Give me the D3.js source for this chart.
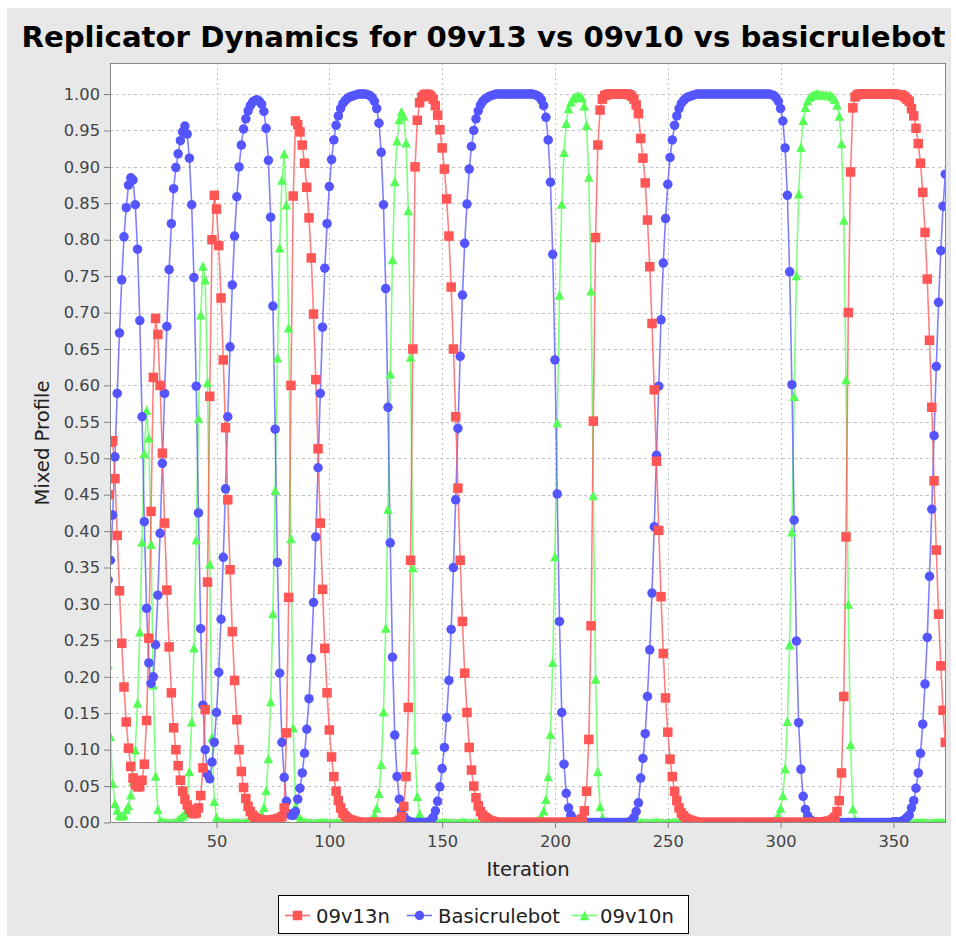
<!DOCTYPE html>
<html><head><meta charset="utf-8">
<script src="https://cdn.jsdelivr.net/npm/d3@7"></script>
<style>body{margin:0;background:#fff}svg{display:block}</style>
</head><body><svg id="chart" width="956" height="936"></svg>
<script>
const titleText = "Replicator Dynamics for 09v13 vs 09v10 vs basicrulebot";
const seriesNames = ["09v13n", "Basicrulebot", "09v10n"];
const xLabel = "Iteration";
const yLabel = "Mixed Profile";
const firstIteration = 2;
const xTicks = [50, 100, 150, 200, 250, 300, 350];
const yTicks = [0, 0.05, 0.10, 0.15, 0.20, 0.25, 0.30, 0.35, 0.40, 0.45, 0.50, 0.55, 0.60, 0.65, 0.70, 0.75, 0.80, 0.85, 0.90, 0.95, 1.00];

// 09v13n (red), iterations 2..373
const red = [
.45,.522,.524,.472,.394,.318,.246,.186,.138,.102,
.077,.061,.052,.049,.049,.058,.08,.14,.253,.427,
.611,.692,.670,.600,.507,.411,.319,.241,.178,.13,
.10,.078,.058,.043,.032,.024,.018,.014,.012,.013,
.02,.037,.075,.155,.33,.585,.80,.861,.842,.792,
.72,.635,.542,.443,.347,.262,.195,.141,.10,.07,
.048,.033,.022,.015,.01,.007,.005,.004,.003,.003,
.003,.003,.003,.004,.004,.005,.006,.008,.02,.123,
.309,.60,.86,.963,.958,.948,.93,.905,.872,.83,
.775,.698,.608,.513,.411,.32,.239,.178,.127,.09,
.063,.043,.03,.02,.013,.009,.006,.004,.003,.002,
.001,0,0,0,0,0,0,0,0,0,
0,0,0,0,0,0,0,0,.001,.003,
.008,.022,.063,.158,.36,.65,.90,.964,.988,.996,
.999,1,.999,.997,.993,.984,.971,.951,.926,.897,
.856,.805,.735,.65,.557,.459,.36,.276,.205,.151,
.103,.072,.05,.034,.023,.015,.01,.007,.005,.003,
.002,.001,0,0,0,0,0,0,0,0,
0,0,0,0,0,0,0,0,0,0,
0,0,0,0,0,0,0,0,0,0,
0,0,0,0,0,.001,.001,.001,.001,.002,
.005,.016,.043,.114,.27,.551,.803,.93,.978,.993,
.998,.999,1,1,1,1,1,1,1,1,
1,.999,.997,.993,.985,.973,.939,.912,.878,.827,
.763,.685,.594,.496,.401,.31,.232,.171,.124,.087,
.063,.043,.03,.02,.013,.009,.006,.004,.003,.002,
.001,0,0,0,0,0,0,0,0,0,
0,0,0,0,0,0,0,0,0,0,
0,0,0,0,0,0,0,0,0,0,
0,0,0,0,0,0,0,0,0,0,
0,0,0,0,0,0,0,0,0,0,
0,0,0,0,0,0,.001,.001,.001,.002,
.002,.004,.007,.015,.03,.068,.173,.392,.70,.893,
.981,.996,.999,1,1,1,1,1,1,1,
1,1,1,1,1,1,1,1,1,1,
.999,.999,.998,.996,.993,.99,.98,.97,.953,.932,
.905,.865,.81,.746,.662,.57,.469,.374,.286,.215,
.154,.11
];

// Basicrulebot (blue), iterations 2..373
const blue = [
.333,.36,.422,.502,.589,.672,.745,.804,.844,.875,
.885,.882,.848,.787,.689,.557,.413,.294,.219,.191,
.20,.244,.312,.397,.493,.589,.681,.759,.822,.87,
.899,.918,.936,.948,.956,.945,.912,.848,.748,.599,
.425,.266,.161,.10,.066,.06,.083,.11,.151,.206,
.279,.364,.458,.557,.653,.738,.805,.859,.90,.93,
.952,.966,.977,.984,.989,.991,.992,.99,.986,.976,
.953,.909,.831,.709,.54,.357,.205,.11,.062,.029,
.012,.01,.01,.015,.032,.047,.068,.095,.128,.17,
.225,.302,.392,.487,.589,.68,.761,.822,.873,.91,
.937,.957,.97,.98,.987,.991,.994,.996,.997,.998,
.999,1,1,1,1,.999,.998,.995,.99,.98,
.96,.92,.848,.733,.57,.384,.227,.12,.063,.032,
.016,.008,.004,.002,.001,0,0,0,0,0,
0,0,.001,.003,.007,.016,.029,.049,.074,.103,
.144,.195,.265,.35,.443,.541,.64,.724,.795,.849,
.897,.928,.95,.966,.977,.985,.99,.993,.995,.997,
.998,.999,1,1,1,1,1,1,1,1,
1,1,1,1,1,1,1,1,1,.999,
.998,.996,.992,.984,.968,.937,.879,.78,.635,.451,
.276,.151,.08,.04,.02,.01,.005,.003,.001,.001,
0,0,0,0,0,0,0,0,0,0,
0,0,0,0,0,0,0,0,0,0,
0,.001,.003,.007,.015,.027,.061,.088,.122,.173,
.237,.315,.406,.504,.599,.69,.768,.829,.876,.913,
.937,.957,.97,.98,.987,.991,.994,.996,.997,.998,
.999,1,1,1,1,1,1,1,1,1,
1,1,1,1,1,1,1,1,1,1,
1,1,1,1,1,1,1,1,1,1,
1,1,1,1,.999,.998,.995,.99,.98,.963,
.926,.861,.756,.601,.415,.249,.137,.073,.036,.018,
.009,.004,.002,.001,0,0,0,0,0,0,
0,0,0,0,0,0,0,0,0,0,
0,0,0,0,0,0,0,0,0,0,
0,0,0,0,0,0,0,0,.001,.001,
.001,.001,.002,.004,.007,.01,.02,.03,.047,.068,
.095,.135,.19,.254,.338,.43,.531,.626,.714,.785,
.846,.89
];

// 09v10n (green), iterations 2..373
const green = [
.217,.118,.054,.026,.017,.010,.009,.010,.018,.023,
.038,.057,.10,.164,.262,.385,.507,.566,.528,.382,
.189,.064,.018,.003,0,0,0,0,0,0,
.001,.004,.006,.009,.012,.031,.07,.138,.24,.388,
.555,.697,.764,.745,.604,.355,.117,.029,.007,.002,
.001,.001,0,0,0,0,0,0,0,0,
0,.001,.001,.001,.001,.002,.003,.006,.011,.021,
.044,.088,.166,.287,.456,.638,.789,.882,.918,.848,
.679,.39,.13,.022,.01,.005,.002,0,0,0,
0,0,0,0,0,0,0,0,0,0,
0,0,0,0,0,0,0,0,0,0,
0,0,0,0,0,.001,.002,.005,.01,.02,
.04,.08,.152,.267,.43,.616,.773,.88,.936,.965,
.976,.97,.933,.84,.639,.35,.10,.036,.012,.004,
.001,0,0,0,0,0,0,0,0,0,
0,0,0,0,0,0,0,0,0,0,
0,0,0,0,0,0,0,0,0,0,
0,0,0,0,0,0,0,0,0,0,
0,0,0,0,0,0,0,0,0,.001,
.002,.004,.008,.016,.032,.063,.121,.22,.365,.549,
.724,.849,.92,.96,.98,.989,.994,.996,.998,.997,
.995,.984,.957,.886,.73,.449,.197,.07,.022,.007,
.002,.001,0,0,0,0,0,0,0,0,
0,0,0,0,0,0,0,0,0,0,
0,0,0,0,0,0,0,0,0,0,
0,0,0,0,0,0,0,0,0,0,
0,0,0,0,0,0,0,0,0,0,
0,0,0,0,0,0,0,0,0,0,
0,0,0,0,0,0,0,0,0,0,
0,0,0,0,.001,.002,.005,.01,.02,.037,
.074,.139,.244,.399,.585,.751,.863,.927,.964,.982,
.991,.996,.998,.999,1,1,.999,.999,.999,.998,
.998,.996,.993,.985,.97,.932,.827,.608,.30,.107,
.019,.004,.001,0,0,0,0,0,0,0,
0,0,0,0,0,0,0,0,0,0,
0,0,0,0,0,0,0,0,0,0,
0,0,0,0,0,0,0,0,0,0,
0,0
];

const colors = ["#ff5555", "#5555ff", "#55ff55"];
const svg = d3.select("#chart");
const W = 956, H = 936;
const P = {left: 110, top: 63, right: 946, bottom: 823};

svg.append("rect").attr("x", 0).attr("y", 0).attr("width", W).attr("height", H).attr("fill", "#ffffff");
svg.append("rect").attr("x", 7).attr("y", 8).attr("width", 944).attr("height", 928).attr("fill", "#e8e8e8");

const x = d3.scaleLinear().domain([2.8, 373.3]).range([P.left, P.right]);
const y = d3.scaleLinear().domain([0, 1.0426]).range([822.5, P.top]);

// plot background
svg.append("rect").attr("x", P.left).attr("y", P.top).attr("width", P.right - P.left).attr("height", P.bottom - P.top).attr("fill", "#ffffff");

// gridlines
const grid = svg.append("g");
grid.selectAll("line.h").data(yTicks.slice(1)).join("line")
  .attr("x1", P.left).attr("x2", P.right)
  .attr("y1", d => Math.round(y(d)) + 0.5).attr("y2", d => Math.round(y(d)) + 0.5)
  .attr("stroke", "#c4c4c4").attr("stroke-width", 1).attr("stroke-dasharray", "3,3");
grid.selectAll("line.v").data(xTicks).join("line")
  .attr("y1", P.top).attr("y2", P.bottom)
  .attr("x1", d => Math.round(x(d)) + 0.5).attr("x2", d => Math.round(x(d)) + 0.5)
  .attr("stroke", "#c4c4c4").attr("stroke-width", 1).attr("stroke-dasharray", "2,3");

// axes
const font = "'DejaVu Sans', 'Noto Sans', sans-serif";
const yAxis = d3.axisLeft(y).tickValues(yTicks).tickFormat(d3.format(".2f")).tickSize(6).tickPadding(4);
const gy = svg.append("g").attr("transform", `translate(${P.left},0)`).call(yAxis);
const xAxis = d3.axisBottom(x).tickValues(xTicks).tickFormat(d3.format("d")).tickSize(5).tickPadding(7);
const gx = svg.append("g").attr("transform", `translate(0,${P.bottom})`).call(xAxis);
[gx, gy].forEach(g => {
  g.select(".domain").remove();
  g.selectAll(".tick line").attr("stroke", "#808080");
  g.selectAll("text").attr("font-family", font).attr("font-size", 16.3).attr("fill", "#444");
});

// clip
svg.append("clipPath").attr("id", "clip").append("rect")
  .attr("x", P.left).attr("y", P.top).attr("width", P.right - P.left).attr("height", P.bottom - P.top);

const data = [red, blue, green].map((arr, si) => arr.map((v, i) => ({x: firstIteration + i, y: v, s: si})));
const plotG = svg.append("g").attr("clip-path", "url(#clip)");
const line = d3.line().x(d => x(d.x)).y(d => y(d.y));
const order = [2, 1, 0];
order.forEach(si => {
  plotG.append("path").datum(data[si]).attr("d", line)
    .attr("fill", "none").attr("stroke", colors[si]).attr("stroke-width", 1.6).attr("stroke-opacity", 0.75);
});
const sz = 9.5;
const shapes = [
  d3.symbol().type(d3.symbolSquare).size(sz * sz),
  d3.symbol().type(d3.symbolCircle).size(Math.PI * (sz / 2) * (sz / 2)),
  d3.symbol().type(d3.symbolTriangle).size(sz * sz * 0.5)
];
function triPath(cx, cy) {
  const h = sz / 2;
  return `M${cx},${cy - h}L${cx + h},${cy + h}L${cx - h},${cy + h}Z`;
}
order.forEach(si => {
  const g = plotG.append("g").attr("fill", colors[si]);
  if (si === 2) {
    g.selectAll("path").data(data[si]).join("path").attr("d", d => triPath(x(d.x), y(d.y)));
  } else {
    g.selectAll("path").data(data[si]).join("path")
      .attr("transform", d => `translate(${x(d.x)},${y(d.y)})`).attr("d", shapes[si]());
  }
});

// plot outline
svg.append("rect").attr("x", P.left + 0.5).attr("y", P.top + 0.5).attr("width", P.right - P.left - 1).attr("height", P.bottom - P.top - 1)
  .attr("fill", "none").attr("stroke", "#8a8a8a").attr("stroke-width", 1);

// title
svg.append("text").attr("x", 483.5).attr("y", 47).attr("text-anchor", "middle")
  .attr("font-family", font).attr("font-weight", "bold").attr("font-size", 29.2).attr("fill", "#000").text(titleText);

// axis labels
svg.append("text").attr("x", (P.left + P.right) / 2).attr("y", 876).attr("text-anchor", "middle")
  .attr("font-family", font).attr("font-size", 19.6).attr("fill", "#222").text(xLabel);
svg.append("text").attr("transform", `translate(49,${(P.top + P.bottom) / 2}) rotate(-90)`).attr("text-anchor", "middle")
  .attr("font-family", font).attr("font-size", 19.6).attr("fill", "#222").text(yLabel);

// legend
const lg = svg.append("g");
lg.append("rect").attr("x", 278.5).attr("y", 895.5).attr("width", 410).attr("height", 38).attr("fill", "#fff").attr("stroke", "#000").attr("stroke-width", 1);
const legendX = [[285, 316], [407, 438], [572, 600]];
seriesNames.forEach((name, si) => {
  const [lx, tx] = legendX[si];
  const cy = 915.5;
  lg.append("line").attr("x1", lx).attr("x2", lx + 25).attr("y1", cy).attr("y2", cy)
    .attr("stroke", colors[si]).attr("stroke-width", 1.6).attr("stroke-opacity", 0.85);
  const cx = lx + 12.5;
  if (si === 2) lg.append("path").attr("d", triPath(cx, cy)).attr("fill", colors[si]);
  else lg.append("path").attr("transform", `translate(${cx},${cy})`).attr("d", shapes[si]()).attr("fill", colors[si]);
  lg.append("text").attr("x", tx).attr("y", 923).attr("font-family", font).attr("font-size", 19.6).attr("fill", "#222").text(name);
});
</script>
</body></html>
